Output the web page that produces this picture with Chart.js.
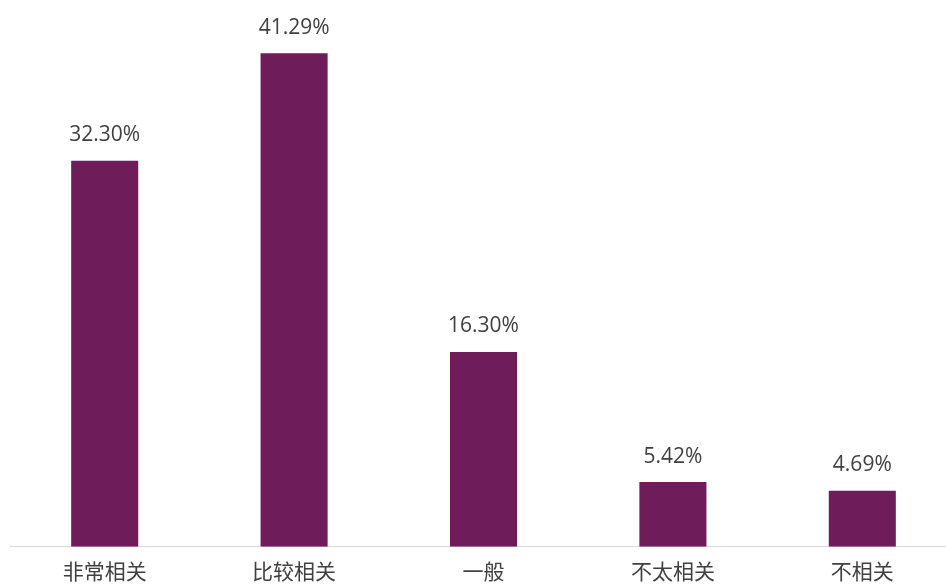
<!DOCTYPE html>
<html><head><meta charset="utf-8">
<script src="https://cdn.jsdelivr.net/npm/chart.js@4/dist/chart.umd.min.js"></script>
<style>
html,body{margin:0;padding:0;background:#fff;overflow:hidden;}
#wrap{position:absolute;left:0;top:0;width:957px;height:600px;}
</style></head>
<body><div id="wrap"><canvas id="c"></canvas></div>
<script>
const categories = ['非常相关','比较相关','一般','不太相关','不相关'];
const values = [32.30, 41.29, 16.30, 5.42, 4.69];
const valueLabels = ['32.30%','41.29%','16.30%','5.42%','4.69%'];

const FONT = '"Open Sans", "Noto Sans CJK SC", sans-serif';
const labelPlugin = {
  id:'vlabels',
  afterDatasetsDraw(chart){
    const ctx = chart.ctx;
    const meta = chart.getDatasetMeta(0);
    ctx.save();
    ctx.font = '21px ' + FONT;
    ctx.fillStyle = '#404040';
    ctx.textAlign = 'center';
    ctx.textBaseline = 'bottom';
    meta.data.forEach((bar,i)=>{
      ctx.fillText(valueLabels[i], bar.x, bar.y - 15);
    });
    ctx.restore();
  }
};

new Chart(document.getElementById('c'), {
  type:'bar',
  data:{labels:categories, datasets:[{data:values, backgroundColor:'#6E1C5A', barPercentage:0.354, categoryPercentage:1}]},
  options:{
    responsive:true, maintainAspectRatio:false, animation:false,
    layout:{padding:{left:10,right:0,top:9,bottom:0}},
    plugins:{legend:{display:false}, tooltip:{enabled:false}},
    scales:{
      x:{grid:{display:false, drawTicks:false}, border:{display:true,color:'#d9d9d9',width:1},
         ticks:{padding:14, color:'#404040', font:{size:21, family:FONT}}},
      y:{display:false, min:0, max:45}
    }
  },
  plugins:[labelPlugin]
});
</script></body></html>
